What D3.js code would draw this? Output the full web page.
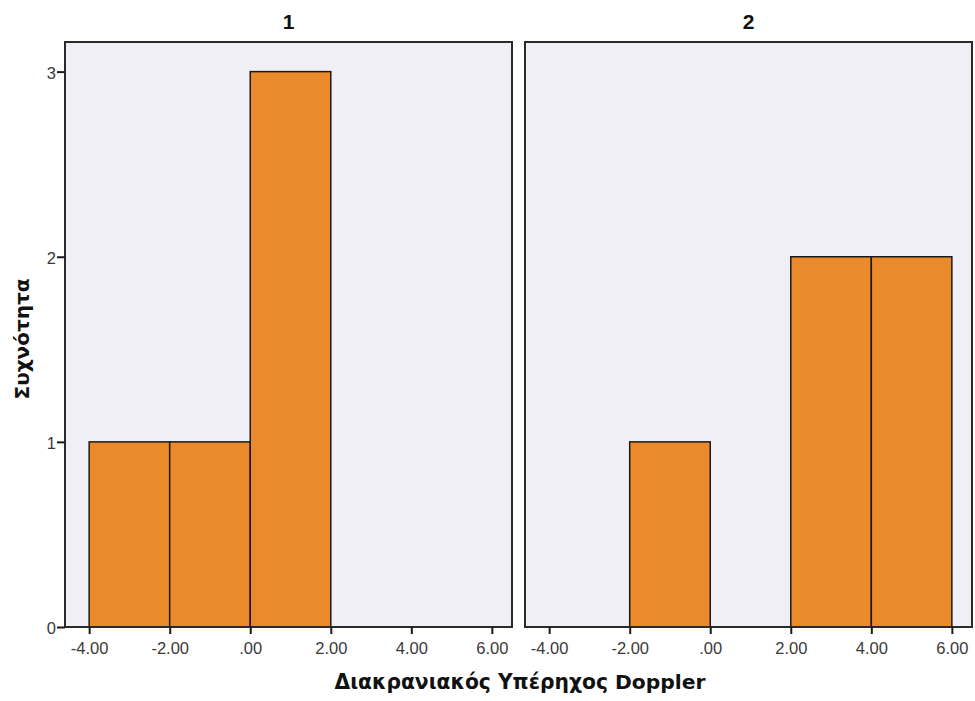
<!DOCTYPE html>
<html>
<head>
<meta charset="utf-8">
<script src="https://cdn.jsdelivr.net/npm/d3@7"></script>
<style>
  html, body { margin: 0; padding: 0; background: #ffffff; }
  svg { display: block; }
</style>
</head>
<body>
<svg id="chart" width="975" height="701"></svg>
<script>
// Histogram panels: one per group, bins of width 2
const panels = ["1", "2"];
const binStarts = [-4, -2, 0, 2, 4];
const counts1 = [1, 1, 3, 0, 0];
const counts2 = [0, 1, 0, 2, 2];
const xTicks = [-4, -2, 0, 2, 4, 6];
const yTicks = [0, 1, 2, 3];
const xTitle = "Διακρανιακός Υπέρηχος Doppler";
const yTitle = "Συχνότητα";

const seriesByPanel = [counts1, counts2];
const binWidth = 2;

const svg = d3.select("#chart");
const plotTop = 42, plotBottom = 627;
const panelLeft = [65, 525];
const panelW = 447;
const tickFont = "Liberation Sans, Arial, sans-serif";
const titleFont = "DejaVu Sans, Verdana, sans-serif";

const y = d3.scaleLinear().domain([0, 3.16]).range([plotBottom, plotTop]);

// labels: ASCII hyphen for negatives, no leading zero
const fmt = v => {
  if (v === 0) return ".00";
  return (v < 0 ? "-" : "") + Math.abs(v).toFixed(2);
};

panels.forEach((name, i) => {
  const x0 = panelLeft[i];
  const x = d3.scaleLinear().domain([-4.6, 6.5]).range([x0, x0 + panelW]);
  const g = svg.append("g");

  // panel background
  g.append("rect")
    .attr("x", x0).attr("y", plotTop)
    .attr("width", panelW).attr("height", plotBottom - plotTop)
    .attr("fill", "#efeff5");

  // bars
  const data = binStarts.map((b, k) => ({ b, c: seriesByPanel[i][k] })).filter(d => d.c > 0);
  g.selectAll("rect.bar").data(data).join("rect")
    .attr("class", "bar")
    .attr("x", d => x(d.b))
    .attr("y", d => y(d.c))
    .attr("width", d => x(d.b + binWidth) - x(d.b))
    .attr("height", d => y(0) - y(d.c))
    .attr("fill", "#eb8a2b")
    .attr("stroke", "#1a1a1a")
    .attr("stroke-width", 1.5);

  // panel frame
  g.append("rect")
    .attr("x", x0).attr("y", plotTop)
    .attr("width", panelW).attr("height", plotBottom - plotTop)
    .attr("fill", "none")
    .attr("stroke", "#2a2a2a")
    .attr("stroke-width", 2);

  // x axis
  const xAxis = g.append("g")
    .attr("transform", `translate(0,${plotBottom})`)
    .call(d3.axisBottom(x).tickValues(xTicks).tickFormat(fmt).tickSize(7).tickSizeOuter(0));
  xAxis.select(".domain").remove();
  xAxis.selectAll(".tick line").attr("stroke", "#1a1a1a").attr("stroke-width", 2);
  xAxis.selectAll(".tick text")
    .attr("dy", "0.35em").attr("y", 21)
    .attr("fill", "#3a3a3a")
    .style("font-family", tickFont)
    .style("font-size", "16.5px");

  // panel title
  g.append("text")
    .attr("x", x0 + panelW / 2).attr("y", 29)
    .attr("text-anchor", "middle")
    .style("font-family", tickFont)
    .style("font-size", "21px")
    .style("font-weight", "bold")
    .attr("fill", "#111")
    .text(name);

  if (i === 0) {
    const yAxis = g.append("g")
      .attr("transform", `translate(${x0},0)`)
      .call(d3.axisLeft(y).tickValues(yTicks).tickFormat(d3.format("d")).tickSize(8).tickSizeOuter(0));
    yAxis.select(".domain").remove();
    yAxis.selectAll(".tick line").attr("stroke", "#1a1a1a").attr("stroke-width", 2);
    yAxis.selectAll(".tick text")
      .attr("x", -9)
      .attr("dy", "0.4em")
      .attr("fill", "#3a3a3a")
      .style("font-family", tickFont)
      .style("font-size", "16.5px");
  }
});

// axis titles
svg.append("text")
  .attr("x", 520).attr("y", 689)
  .attr("text-anchor", "middle")
  .style("font-family", titleFont)
  .style("font-size", "20.3px")
  .style("font-weight", "bold")
  .attr("fill", "#111")
  .text(xTitle);

svg.append("text")
  .attr("transform", "translate(29,339) rotate(-90)")
  .attr("text-anchor", "middle")
  .style("font-family", titleFont)
  .style("font-size", "20px")
  .style("font-weight", "bold")
  .attr("fill", "#111")
  .text(yTitle);
</script>
</body>
</html>
